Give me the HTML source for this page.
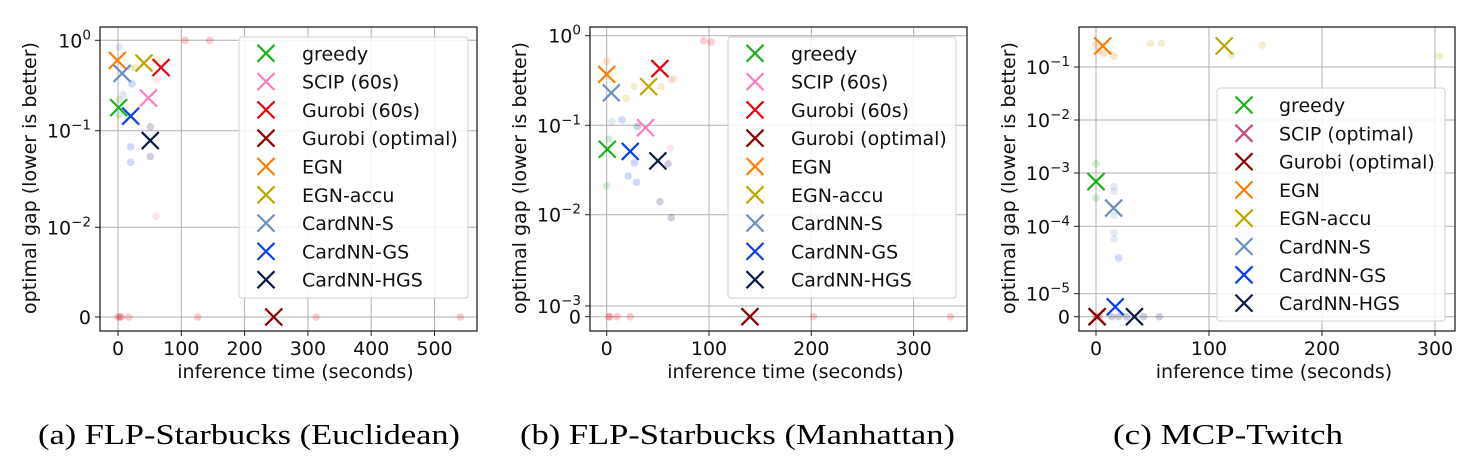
<!DOCTYPE html>
<html><head><meta charset="utf-8"><style>
html,body{margin:0;padding:0;background:#fff;}
svg{display:block;font-family:"DejaVu Sans","Liberation Sans",sans-serif;}
</style></head><body>
<svg id="fig" width="1473" height="465" viewBox="0 0 1473 465" xmlns="http://www.w3.org/2000/svg"></svg>
<script>
// ---------- data ----------
const colors = {"greedy":"#1db11d","SCIP (60s)":"#ff7cc0","Gurobi (60s)":"#e8000b","Gurobi (optimal)":"#8b0000","EGN":"#ff7c00","EGN-accu":"#bca800","CardNN-S":"#6a8fc0","CardNN-GS":"#0a3ff0","CardNN-HGS":"#0c1a4a","SCIP (optimal)":"#d0457a"};

const methodsA = ["greedy","SCIP (60s)","Gurobi (60s)","Gurobi (optimal)","EGN","EGN-accu","CardNN-S","CardNN-GS","CardNN-HGS"];
const timesA = [1,48,68,246,-1,41,6.5,20,51];
const gapsA = [0.18,0.23,0.5,0,0.6,0.56,0.43,0.145,0.079];
const fadedMethodA = ["Gurobi (60s)","Gurobi (60s)","Gurobi (60s)","Gurobi (60s)","Gurobi (60s)","Gurobi (60s)","Gurobi (60s)","Gurobi (60s)","Gurobi (60s)","CardNN-GS","CardNN-GS","CardNN-GS","CardNN-S","CardNN-HGS","CardNN-HGS","greedy","greedy","SCIP (60s)","SCIP (60s)","EGN-accu","EGN-accu","EGN-accu","CardNN-S"];
const fadedTimesA = [0,3,5,17,126,313,541,106,145,20,20,22,8,51,51,2,2,60,62,20,28,62,2];
const fadedGapsA = [0,0,0,0,0,0,0,1.0,1.0,0.068,0.047,0.33,0.25,0.11,0.054,0.15,0.22,0.013,0.37,0.5,0.5,0.6,0.84];

const methodsB = ["greedy","SCIP (60s)","Gurobi (60s)","Gurobi (optimal)","EGN","EGN-accu","CardNN-S","CardNN-GS","CardNN-HGS"];
const timesB = [0.6,38,52,140,0,41,4.5,23,50];
const gapsB = [0.054,0.094,0.43,0,0.37,0.27,0.23,0.051,0.040];
const fadedMethodB = ["Gurobi (60s)","Gurobi (60s)","Gurobi (60s)","Gurobi (60s)","Gurobi (60s)","Gurobi (60s)","Gurobi (60s)","Gurobi (60s)","EGN","EGN-accu","EGN-accu","EGN-accu","EGN-accu","SCIP (60s)","SCIP (60s)","CardNN-S","CardNN-GS","CardNN-GS","CardNN-GS","CardNN-GS","CardNN-HGS","CardNN-HGS","CardNN-HGS","CardNN-HGS","greedy","greedy"];
const fadedTimesB = [2,3,10,23,202,336,95,102,0,27,19,53,65,63,62,5,15,27,21,29,30,52,60,63,2,0];
const fadedGapsB = [0,0,0,0,0,0,0.88,0.85,0.52,0.27,0.2,0.27,0.33,0.32,0.055,0.11,0.115,0.038,0.027,0.023,0.097,0.014,0.037,0.0093,0.07,0.021];

const methodsC = ["greedy","SCIP (optimal)","Gurobi (optimal)","EGN","EGN-accu","CardNN-S","CardNN-GS","CardNN-HGS"];
const timesC = [0,1,1,6,113.5,15.6,17,34];
const gapsC = [6.9e-4,0,0,0.25,0.25,2.2e-4,4.3e-6,0];
const fadedMethodC = ["EGN-accu","EGN-accu","EGN-accu","EGN-accu","EGN-accu","EGN","EGN","EGN","EGN","greedy","greedy","CardNN-S","CardNN-S","CardNN-S","CardNN-S","CardNN-S","CardNN-GS","CardNN-HGS","CardNN-HGS","CardNN-HGS","CardNN-HGS","CardNN-HGS","Gurobi (optimal)","Gurobi (optimal)"];
const fadedTimesC = [48,58,147,304,120,0,3,7,16,0,0,16,16,16,16,16,20,14,20,27,42,56,0,3];
const fadedGapsC = [0.28,0.28,0.26,0.16,0.17,0.27,0.2,0.18,0.16,1.5e-3,3.4e-4,5.5e-4,4.5e-4,1.6e-4,8e-5,6.5e-5,3.4e-5,0,0,0,0,0,0,0];

const xTicksA = [0,100,200,300,400,500];
const xTicksB = [0,100,200,300];
const xTicksC = [0,100,200,300];
const yTicksA = [0,1e-2,1e-1,1];
const yTicksB = [0,1e-3,1e-2,1e-1,1];
const yTicksC = [0,1e-5,1e-4,1e-3,1e-2,1e-1];

// ---------- layout (pixel geometry, not data) ----------
const panels = [
 {id:"a", box:[100,27,477,331], x0:118, k:0.633, yPx:[317,227.3,130.7,40.3], methods:methodsA, times:timesA, gaps:gapsA, fm:fadedMethodA, ft:fadedTimesA, fg:fadedGapsA, xt:xTicksA, yt:yTicksA, leg:[239,37,468,298], legY:53.3, legMx:266, legTx:302, cap:"(a) FLP-Starbucks (Euclidean)", capX:38, capW:422},
 {id:"b", box:[590,27,967,331], x0:606.7, k:1.023, yPx:[316.7,306,214.7,125.3,35.7], methods:methodsB, times:timesB, gaps:gapsB, fm:fadedMethodB, ft:fadedTimesB, fg:fadedGapsB, xt:xTicksB, yt:yTicksB, leg:[728,37,956,298], legY:53.3, legMx:755, legTx:791, cap:"(b) FLP-Starbucks (Manhattan)", capX:520, capW:435},
 {id:"c", box:[1079,27,1455,331], x0:1096, k:1.13, yPx:[316.7,293.7,226.3,173,120,67], methods:methodsC, times:timesC, gaps:gapsC, fm:fadedMethodC, ft:fadedTimesC, fg:fadedGapsC, xt:xTicksC, yt:yTicksC, leg:[1217,88,1445,321], legY:105, legMx:1244, legTx:1279, cap:"(c) MCP-Twitch", capX:1113, capW:230}
];

const NS="http://www.w3.org/2000/svg";
const svg=document.getElementById('fig');
function mk(tag,attrs,parent){const e=document.createElementNS(NS,tag);for(const k in attrs)e.setAttribute(k,attrs[k]);(parent||svg).appendChild(e);return e;}

function makeY(ticks,px){
  return function(v){
    if(v<=0) return px[0];
    if(v<ticks[1]) return px[0]+(px[1]-px[0])*(v/ticks[1]);
    for(let i=1;i<ticks.length-1;i++){
      if(v<=ticks[i+1]){const f=(Math.log10(v)-Math.log10(ticks[i]))/(Math.log10(ticks[i+1])-Math.log10(ticks[i]));return px[i]+(px[i+1]-px[i])*f;}
    }
    const n=ticks.length-1;const d=px[n]-px[n-1];
    return px[n]+d*(Math.log10(v)-Math.log10(ticks[n]));
  };
}
function drawX(g,cx,cy,h,color,w){
  return mk('path',{d:`M${cx-h},${cy-h}L${cx+h},${cy+h}M${cx-h},${cy+h}L${cx+h},${cy-h}`,stroke:color,'stroke-width':w,fill:'none'},g);
}

panels.forEach(P=>{
  const g=mk('g',{});
  
  
  const [L,T,R,B]=P.box;
  const X=v=>P.x0+v*P.k;
  const Y=makeY(P.yt,P.yPx);
  P.xt.forEach(t=>{mk('line',{x1:X(t),x2:X(t),y1:T,y2:B,stroke:'#b0b0b0','stroke-width':1},g);});
  P.yt.forEach(t=>{mk('line',{x1:L,x2:R,y1:Y(t),y2:Y(t),stroke:'#b0b0b0','stroke-width':1},g);});
  P.fm.forEach((m,i)=>{
    const c=mk('circle',{cx:X(P.ft[i]),cy:Y(P.fg[i]),r:3.8,fill:colors[m],'fill-opacity':0.2},g);
    
    
  });
  P.methods.forEach((m,i)=>{
    const p=drawX(g,X(P.times[i]),Y(P.gaps[i]),8.5,colors[m],2.2);
    
    
  });
  mk('rect',{x:L,y:T,width:R-L,height:B-T,fill:'none',stroke:'#222','stroke-width':1.3},g);
  P.xt.forEach(t=>{
    mk('line',{x1:X(t),x2:X(t),y1:B,y2:B+5,stroke:'#222','stroke-width':1},g);
    const tx=mk('text',{x:X(t),y:B+24,'text-anchor':'middle','font-size':19,fill:'#111'},g);
    tx.textContent=t;
    
    
  });
  P.yt.forEach(t=>{
    const yy=Y(t);
    mk('line',{x1:L-5,x2:L,y1:yy,y2:yy,stroke:'#222','stroke-width':1},g);
    const tx=mk('text',{x:L-9,y:yy+7,'text-anchor':'end','font-size':19,fill:'#111'},g);
    
    
    if(t===0){tx.textContent='0';}
    else{
      const e=Math.round(Math.log10(t));
      const a=mk('tspan',{},tx);a.textContent='10';
      const b=mk('tspan',{dy:-8,'font-size':13.5},tx);b.textContent=(e<0?'\u2212':'')+Math.abs(e);
    }
  });
  const xl=mk('text',{x:(L+R)/2+7,y:B+47,'text-anchor':'middle','font-size':19,fill:'#111'},g);
  xl.textContent='inference time (seconds)';
  
  
  const cx=L-70, cy=178;
  const yl=mk('text',{x:cx+6,y:cy,'text-anchor':'middle','font-size':19,fill:'#111',transform:`rotate(-90 ${cx+6} ${cy})`},g);
  yl.textContent='optimal gap (lower is better)';
  
  
  const lg=mk('g',{},g);
  
  
  const [lx0,ly0,lx1,ly1]=P.leg;
  mk('rect',{x:lx0,y:ly0,width:lx1-lx0,height:ly1-ly0,rx:3,fill:'#fff','fill-opacity':0.85,stroke:'#d0d0d0','stroke-width':1},lg);
  P.methods.forEach((m,i)=>{
    const yy=P.legY+i*28.3;
    const e=mk('g',{},lg);
    
    
    drawX(e,P.legMx,yy,8.5,colors[m],2.2);
    const t=mk('text',{x:P.legTx,y:yy+7,'font-size':19,fill:'#111'},e);
    t.textContent=m;
  });
  const cp=mk('text',{x:P.capX,y:444,'font-size':28,fill:'#000','font-family':'"Liberation Serif",serif',textLength:P.capW,lengthAdjust:'spacingAndGlyphs'},g);
  cp.textContent=P.cap;
  
  
});
</script>
</body></html>
